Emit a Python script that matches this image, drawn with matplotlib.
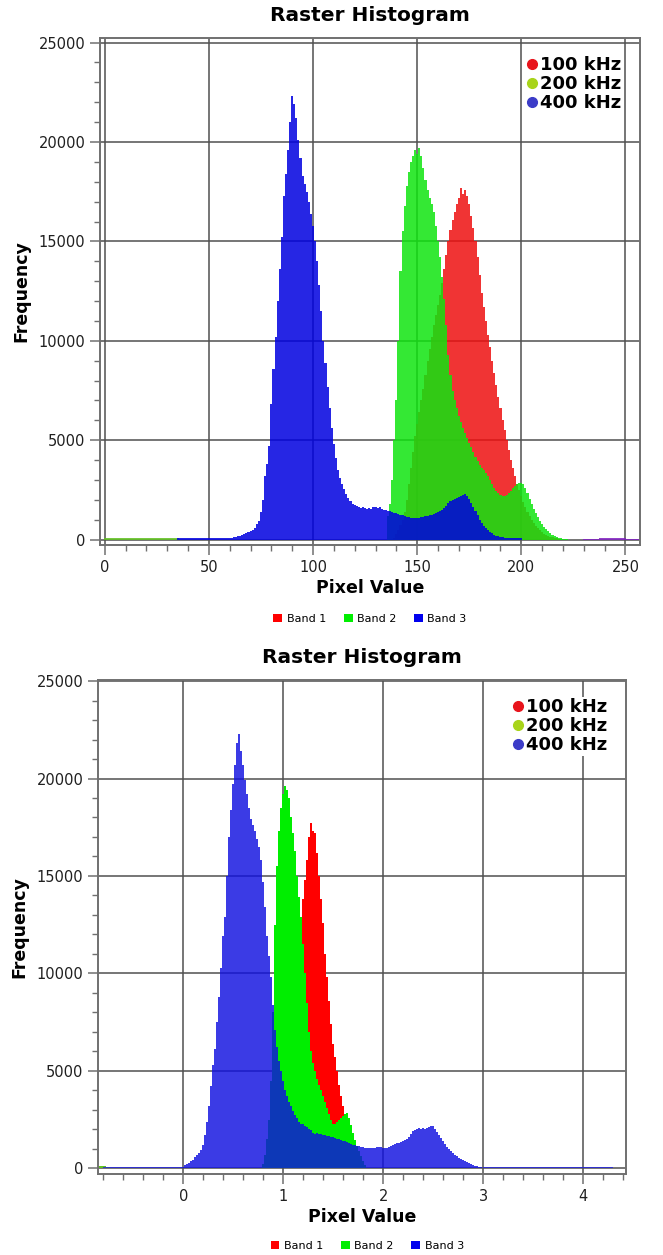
import numpy as np
import matplotlib.pyplot as plt
from matplotlib.lines import Line2D
from matplotlib.patches import Patch
from matplotlib.ticker import MultipleLocator

# ---------------- top panel : one bin per 8-bit pixel value ----------------
top_red_start = 139
top_red = [100, 300,
           500, 750, 1000, 1400, 2000, 2800, 3600, 4400, 5200, 5800,
           6400, 7000, 7600, 8300, 9000, 9600, 10200, 10800, 11300, 11800,
           12300, 12900, 13600, 14300, 15000, 15600, 16100, 16500, 16900, 17200,
           17700, 17400, 17600, 17300, 16900, 16300, 15700, 15000, 14200, 13300,
           12400, 11700, 11000, 10300, 9700, 9000, 8400, 7800, 7200, 6600,
           6000, 5500, 5000, 4500, 4000, 3600, 3200, 2800, 2500, 2200,
           1900, 1650, 1400, 1200, 1000, 850, 700, 580, 470, 380,
           300, 240, 190, 150, 110, 80, 60, 40]

top_green_start = 136
top_green = [1200, 1800, 3000, 5000, 7000,
             10000, 13500, 15500, 16800, 17800, 18500, 19000, 19300, 19600, 19400,
             19700, 19300, 18700, 18100, 17600, 17200, 16900, 16500, 15800, 15000,
             14200, 13200, 12100, 10800, 9300, 8300, 7500, 7000, 6600, 6200,
             5900, 5600, 5350, 5100, 4850, 4650, 4400, 4150, 3950, 3750,
             3600, 3500, 3350, 3200, 3000, 2800, 2600, 2450, 2350, 2250,
             2200, 2200, 2250, 2350, 2450, 2600, 2700, 2800, 2850, 2850,
             2800, 2600, 2350, 2050, 1800, 1550, 1350, 1150, 950, 780,
             640, 520, 420, 330, 250, 190, 140, 90, 60, 40,
             30, 20]
top_green_low_start = 0
top_green_low = [90, 90, 90, 85, 85, 85, 90, 90, 90, 85, 85, 85,
                 90, 90, 85, 85, 85, 90, 90, 90, 85, 85, 85, 90,
                 90, 85, 85, 85, 90, 90, 85, 85, 85, 80, 80, 80]

top_blue_start = 35
top_blue = [70, 70, 70, 70, 75, 75, 75, 75, 75, 80, 80, 80, 80,
            80, 80, 85, 85, 85, 85, 90, 90, 90, 95, 95, 100, 100,
            105, 115, 130, 160, 190, 230, 270, 320, 370, 420,
            480, 600, 780, 950, 1400, 2000, 3200, 3800, 4700, 6800,
            8600, 10200, 12000, 13600, 15200, 17300, 18400, 19600, 21000, 22300,
            21900, 21200, 20100, 19200, 18300, 17900, 17500, 17000, 16400, 15800,
            15000, 14000, 12800, 11500, 10000, 8900, 7700, 6600, 5600, 4800,
            4100, 3500, 3100, 2800, 2550, 2300, 2100, 1950, 1800, 1750,
            1700, 1650, 1600, 1620, 1580, 1560, 1600, 1550, 1620, 1650,
            1600, 1640, 1560, 1500, 1480, 1450, 1420, 1380, 1350, 1320,
            1300, 1260, 1220, 1180, 1150, 1120, 1100, 1090, 1080, 1080,
            1100, 1120, 1150, 1170, 1200, 1230, 1260, 1300, 1350, 1400,
            1450, 1500, 1600, 1700, 1850, 1950, 2000, 2050, 2100, 2150,
            2200, 2250, 2300, 2200, 2050, 1850, 1650, 1450, 1250, 1000,
            850, 700, 580, 480, 390, 320, 260, 210, 170, 140,
            110, 90, 80, 70, 70, 65, 65, 60, 60, 60]
top_tail_start = 230
top_tail = [50, 50, 50, 50, 55, 55, 55, 55, 60, 60, 60, 60, 60, 60,
            60, 60, 60, 60, 60, 60, 60, 55, 55, 55, 55, 50, 50]

# ---------------- bottom panel : bins 0.02 wide ----------------
bot_step = 0.02
bot_red_start = 1.00
bot_red = [300, 800, 1500, 2600, 4000, 5400, 7000, 8500, 10000, 11800,
           13800, 14800, 15800, 17000, 17700, 17300, 17200, 16200, 15000, 13800,
           12600, 11000, 9800, 8600, 7400, 6400, 5700, 5000, 4300, 3700,
           3200, 2700, 2200, 1700, 1300, 900, 600, 350, 200, 100]

bot_green_start = 0.78
bot_green = [0, 200, 700, 1500, 2500, 4500, 8000, 12500, 15500, 17300,
             18500, 19200, 19600, 19400, 19000, 18000, 17200, 16300, 15000, 13900,
             12900, 11500, 10000, 8500, 7000, 6000, 5400, 5000, 4600, 4300,
             4000, 3700, 3400, 3100, 2800, 2500, 2250, 2300, 2400, 2500,
             2600, 2700, 2780, 2820, 2600, 2200, 1800, 1450, 1150, 900,
             650, 400, 150]
bot_green_low_start = -0.84
bot_green_low = [110, 110, 100, 100, 90, 80]

bot_blue_start = 0.00
bot_blue = [90, 150, 220, 280, 360, 450, 580, 680, 800, 950,
            1200, 1700, 2400, 3200, 4200, 5300, 6100, 7500, 8800, 10300,
            11900, 12900, 15000, 17000, 18400, 19700, 20700, 21800, 22300, 21400,
            20700, 19900, 19200, 18500, 17900, 17600, 17300, 16900, 16500, 15800,
            14700, 13400, 11900, 10900, 9800, 8400, 7100, 6200, 5500, 5000,
            4500, 4000, 3700, 3400, 3200, 2950, 2750, 2600, 2400, 2300,
            2250, 2150, 2100, 2000, 1950, 1800, 1750, 1800, 1780, 1750,
            1700, 1720, 1680, 1650, 1620, 1600, 1560, 1520, 1480, 1450,
            1400, 1380, 1330, 1290, 1250, 1220, 1180, 1150, 1130, 1100,
            1080, 1060, 1050, 1040, 1030, 1020, 1050, 1090, 1120, 1080,
            1040, 1030, 1060, 1100, 1150, 1200, 1250, 1280, 1320, 1360,
            1400, 1430, 1480, 1600, 1750, 1900, 1980, 2000, 2050, 2030,
            2060, 2040, 2060, 2100, 2150, 2180, 2000, 1850, 1700, 1550,
            1400, 1250, 1100, 980, 870, 770, 690, 610, 540, 480,
            430, 370, 320, 270, 220, 180, 140, 110, 90, 80]
bot_tail_step = 0.1
bot_blue_left_start = -0.75
bot_blue_left = [70, 70, 75, 75, 80, 80, 85, 90]
bot_blue_right_start = 3.05
bot_blue_right = [80, 75, 75, 70, 70, 70, 70, 70, 65, 65, 65, 65, 65]

band_names = ['Band 1', 'Band 2', 'Band 3']
freq_names = ['100 kHz', '200 kHz', '400 kHz']
band_colors = ['#ee1010', '#10e410', '#0000e0']
freq_colors = ['#e8141c', '#a8d41a', '#3c3cc8']


def draw_band(ax, start, step, vals, color, alpha):
    x = start + step * np.arange(len(vals))
    ax.bar(x, vals, width=step, align='center', color=color, alpha=alpha,
           linewidth=0)


def style_axes(ax, xmaj, xmin):
    ax.xaxis.set_major_locator(MultipleLocator(xmaj))
    ax.xaxis.set_minor_locator(MultipleLocator(xmin))
    ax.yaxis.set_major_locator(MultipleLocator(5000))
    ax.yaxis.set_minor_locator(MultipleLocator(1000))
    ax.grid(True, which='major', color='#505050', lw=1.1)
    ax.set_axisbelow(True)
    for s in ax.spines.values():
        s.set_color('#707070')
        s.set_linewidth(1.4)
    ax.tick_params(which='both', direction='out', colors='#707070',
                   labelcolor='#202020', labelsize=10.5)
    ax.tick_params(which='major', length=7, width=1.1)
    ax.tick_params(which='minor', length=4, width=1)
    ax.set_title('Raster Histogram', fontsize=14.5, fontweight='bold', pad=12)
    ax.set_xlabel('Pixel Value', fontsize=12.5, fontweight='bold', labelpad=3)
    ax.set_ylabel('Frequency', fontsize=12.5, fontweight='bold', labelpad=6)

    fh = [Line2D([], [], ls='none', marker='o', ms=7, mec=c, mfc=c)
          for c in freq_colors]
    leg1 = ax.legend(fh, freq_names, loc='upper right',
                     bbox_to_anchor=(0.985, 0.985),
                     prop={'size': 13, 'weight': 'bold'},
                     frameon=True, facecolor='white', edgecolor='none',
                     framealpha=1, borderpad=0.1, labelspacing=0.05,
                     handlelength=0.6, handletextpad=0.15)
    ax.add_artist(leg1)


fig = plt.figure(figsize=(6.63, 12.55), dpi=100)

# top panel
ax1 = fig.add_axes([0.1508, 0.5657, 0.8145, 0.404])
draw_band(ax1, top_red_start, 1, top_red, band_colors[0], 0.85)
draw_band(ax1, top_tail_start, 1, top_tail, '#8020c0', 0.85)
draw_band(ax1, top_green_start, 1, top_green, band_colors[1], 0.85)
draw_band(ax1, top_green_low_start, 1, top_green_low, '#60c020', 0.85)
draw_band(ax1, top_blue_start, 1, top_blue, band_colors[2], 0.85)
ax1.set_xlim(-2.3, 257)
ax1.set_ylim(-270, 25230)
style_axes(ax1, 50, 10)

# bottom panel
ax2 = fig.add_axes([0.1478, 0.0644, 0.7964, 0.3937])
draw_band(ax2, bot_red_start, bot_step, bot_red, '#ff0000', 1.0)
draw_band(ax2, bot_green_start, bot_step, bot_green, '#00ee00', 1.0)
draw_band(ax2, bot_green_low_start, bot_step, bot_green_low, '#60c020', 1.0)
draw_band(ax2, bot_blue_start, bot_step, bot_blue, '#1010e0', 0.82)
draw_band(ax2, bot_blue_left_start, bot_tail_step, bot_blue_left, '#2020e0', 0.82)
draw_band(ax2, bot_blue_right_start, bot_tail_step, bot_blue_right, '#2020e0', 0.82)
ax2.set_xlim(-0.853, 4.427)
ax2.set_ylim(-300, 25050)
style_axes(ax2, 1, 0.2)

# band legends under each panel
bh = [Patch(facecolor=c, edgecolor='none') for c in ['#ff0000', '#00ee00', '#0000ee']]
for ax, cx, cy in [(ax1, 0.50, -0.145), (ax2, 0.51, -0.145)]:
    ax.legend(bh, band_names, loc='center', bbox_to_anchor=(cx, cy), ncol=3,
              fontsize=8, frameon=False, handlelength=0.8, handleheight=0.8,
              handletextpad=0.4, columnspacing=1.6, borderaxespad=0)

fig.savefig('out.png', dpi=100)
